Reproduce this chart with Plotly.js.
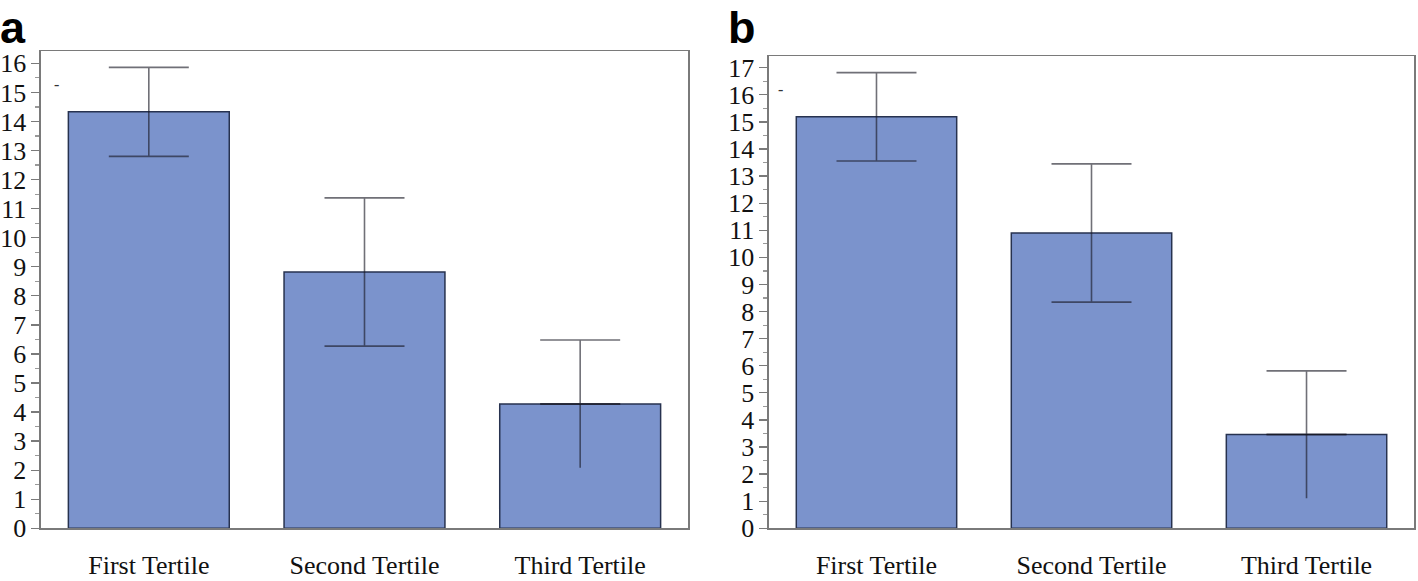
<!DOCTYPE html>
<html>
<head>
<meta charset="utf-8">
<script src="https://cdn.plot.ly/plotly-3.0.1.min.js"></script>
<style>
  html, body { margin: 0; padding: 0; background: #fff; }
  #chart { width: 1418px; height: 581px; }
</style>
</head>
<body>
<div id="chart"></div>
<script>
// ---- Data ----
const categories = ['First Tertile', 'Second Tertile', 'Third Tertile'];
const valuesA = [14.33, 8.82, 4.28];
const errorsA = [1.53, 2.55, 2.2];
const valuesB = [15.19, 10.9, 3.46];
const errorsB = [1.63, 2.55, 2.35];
const yTickValsA = [0,1,2,3,4,5,6,7,8,9,10,11,12,13,14,15,16];
const yTickValsB = [0,1,2,3,4,5,6,7,8,9,10,11,12,13,14,15,16,17];
const panelLabels = ['a', 'b'];

// ---- Styles ----
const barColor = '#7b93cc';
const barLine = '#27324f';
const errColor = 'rgba(25,25,35,0.62)';
const axisColor = '#7a7a7a';
const serif = 'Liberation Serif, Times New Roman, serif';

// bars with caps on the first two whiskers; the third lower whisker is capless
function barTraces(vals, errs, xa, ya) {
  const last = errs.length - 1;
  const plusMain = errs.map((e, i) => (i === last ? null : e));
  return [
    {
      type: 'bar', x: categories, y: vals, xaxis: xa, yaxis: ya,
      marker: { color: barColor, line: { color: barLine, width: 1.5 } },
      error_y: { type: 'data', symmetric: true, array: plusMain,
                 visible: true, color: errColor, thickness: 1.6, width: 40 },
      hoverinfo: 'none', showlegend: false
    },
    { // upper whisker of the last bar, with cap
      type: 'scatter', mode: 'markers', x: [categories[last]], y: [vals[last]], xaxis: xa, yaxis: ya,
      marker: { size: 1, opacity: 0 },
      error_y: { type: 'data', symmetric: false, array: [errs[last]], arrayminus: [0],
                 visible: true, color: errColor, thickness: 1.6, width: 40 },
      hoverinfo: 'none', showlegend: false
    },
    { // lower whisker of the last bar, no cap
      type: 'scatter', mode: 'markers', x: [categories[last]], y: [vals[last]], xaxis: xa, yaxis: ya,
      marker: { size: 1, opacity: 0 },
      error_y: { type: 'data', symmetric: false, array: [0], arrayminus: [errs[last]],
                 visible: true, color: errColor, thickness: 1.6, width: 0 },
      hoverinfo: 'none', showlegend: false
    }
  ];
}

function yAxis(domain, range, ticks, anchor) {
  return {
    domain: domain, range: range, anchor: anchor,
    tickmode: 'array', tickvals: ticks, ticktext: ticks.map(String),
    ticks: 'outside', ticklen: 8, tickwidth: 1.3, tickcolor: axisColor,
    minor: { dtick: 0.5, ticks: 'outside', ticklen: 4, tickwidth: 1.2, tickcolor: '#999' },
    showline: true, linecolor: axisColor, linewidth: 1.6, mirror: true,
    showgrid: false, zeroline: false, automargin: false,
    ticklabelstandoff: 0,
    tickfont: { family: serif, size: 26, color: '#111' }
  };
}

function xAxis(domain, anchor) {
  return {
    domain: domain, anchor: anchor, range: [-0.5, 2.5],
    showline: true, linecolor: axisColor, linewidth: 1.6, mirror: true,
    ticks: '', showgrid: false, zeroline: false, automargin: false,
    ticklabelstandoff: 13,
    tickfont: { family: serif, size: 26, color: '#111' }
  };
}

const data = [].concat(
  barTraces(valuesA, errorsA, 'x', 'y'),
  barTraces(valuesB, errorsB, 'x2', 'y2')
);

const panelFont = { family: 'Liberation Sans, Arial, sans-serif', size: 45, color: '#000' };

const layout = {
  width: 1418, height: 581,
  margin: { l: 0, r: 0, t: 0, b: 0 },
  paper_bgcolor: '#fff', plot_bgcolor: '#fff',
  bargap: 0.254,
  xaxis: xAxis([0.0289, 0.4852], 'y'),
  yaxis: yAxis([0.0907, 0.912], [0, 16.42], yTickValsA, 'x'),
  xaxis2: xAxis([0.5423, 0.9972], 'y2'),
  yaxis2: yAxis([0.0907, 0.903], [0, 17.42], yTickValsB, 'x2'),
  annotations: [
    { text: '<b>' + panelLabels[0] + '</b>', xref: 'paper', yref: 'paper', x: 0.0, y: 1.0,
      xanchor: 'left', yanchor: 'top', showarrow: false, xshift: -2, yshift: 0,
      font: panelFont },
    { text: '<b>' + panelLabels[1] + '</b>', xref: 'paper', yref: 'paper', x: 728 / 1418, y: 1.0,
      xanchor: 'left', yanchor: 'top', showarrow: false, xshift: -2, yshift: 0,
      font: panelFont },
    { text: '-', xref: 'paper', yref: 'paper', x: 56 / 1418, y: 1 - 84 / 581,
      xanchor: 'center', yanchor: 'middle', showarrow: false,
      font: { family: serif, size: 16, color: '#333' } },
    { text: '-', xref: 'paper', yref: 'paper', x: 780 / 1418, y: 1 - 89 / 581,
      xanchor: 'center', yanchor: 'middle', showarrow: false,
      font: { family: serif, size: 16, color: '#333' } }
  ]
};

Plotly.newPlot('chart', data, layout, { staticPlot: true, displayModeBar: false });
</script>
</body>
</html>
